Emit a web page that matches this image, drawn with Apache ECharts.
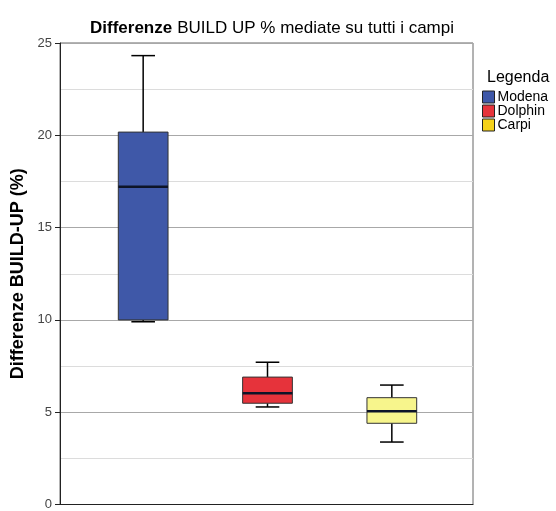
<!DOCTYPE html>
<html>
<head>
<meta charset="utf-8">
<script src="https://cdn.jsdelivr.net/npm/echarts@6/dist/echarts.min.js"></script>
<style>html,body{margin:0;padding:0;background:#fff}#c{width:556px;height:511px}</style>
</head>
<body>
<div id="c"></div>
<script>
var categories = ['Modena', 'Dolphin', 'Carpi'];
// [min, Q1, median, Q3, max]
var modenaStats = [9.98, 10.08, 17.26, 20.2, 24.32];
var dolphinStats = [5.39, 5.59, 6.13, 7.0, 7.8];
var carpiStats = [3.5, 4.51, 5.16, 5.89, 6.57];
var boxColors = ['#3F58A8', '#E6333B', '#F7F58C'];
var legendColors = ['#3F58A8', '#E6333B', '#F5D21A'];
var yTicks = [0, 5, 10, 15, 20, 25];

var stats = [modenaStats, dolphinStats, carpiStats];

function renderBox(params, api) {
  var x = api.value(0);
  var lo = api.coord([x, api.value(1)]);
  var q1 = api.coord([x, api.value(2)]);
  var med = api.coord([x, api.value(3)]);
  var q3 = api.coord([x, api.value(4)]);
  var hi = api.coord([x, api.value(5)]);
  var band = api.size([1, 0])[0];
  var bw = band * 0.4;
  var cw = band * 0.19;
  var cx = lo[0];
  var color = boxColors[params.seriesIndex];
  var lineStyle = { stroke: '#000', lineWidth: 1.5 };
  return {
    type: 'group',
    children: [
      { type: 'line', shape: { x1: cx, y1: hi[1], x2: cx, y2: q3[1] }, style: lineStyle },
      { type: 'line', shape: { x1: cx, y1: q1[1], x2: cx, y2: lo[1] }, style: lineStyle },
      { type: 'line', shape: { x1: cx - cw / 2, y1: hi[1], x2: cx + cw / 2, y2: hi[1] }, style: lineStyle },
      { type: 'line', shape: { x1: cx - cw / 2, y1: lo[1], x2: cx + cw / 2, y2: lo[1] }, style: lineStyle },
      { type: 'rect', shape: { x: cx - bw / 2, y: q3[1], width: bw, height: q1[1] - q3[1] },
        style: { fill: color, stroke: '#333', lineWidth: 1 } },
      { type: 'line', shape: { x1: cx - bw / 2, y1: med[1], x2: cx + bw / 2, y2: med[1] },
        style: { stroke: '#0d1428', lineWidth: 2.5 } }
    ]
  };
}

var series = categories.map(function (name, i) {
  var s = stats[i];
  return {
    type: 'custom',
    name: name,
    xAxisIndex: 1,
    yAxisIndex: 1,
    itemStyle: { color: legendColors[i] },
    renderItem: renderBox,
    encode: { x: 0, y: [1, 2, 3, 4, 5] },
    data: [[i, s[0], s[1], s[2], s[3], s[4]]]
  };
});

var chart = echarts.init(document.getElementById('c'), null, { renderer: 'canvas' });
chart.setOption({
  animation: false,
  backgroundColor: '#fff',
  textStyle: { fontFamily: 'Liberation Sans' },
  title: [
    {
      text: '{b|Differenze} {n|BUILD UP % mediate su tutti i campi}',
      left: 267, top: 13, textAlign: 'center',
      textStyle: {
        rich: {
          b: { fontSize: 17, lineHeight: 20, fontWeight: 'bold', color: '#000', fontFamily: 'Liberation Sans' },
          n: { fontSize: 17, lineHeight: 20, fontWeight: 'normal', color: '#000', fontFamily: 'Liberation Sans' }
        }
      }
    },
    {
      text: 'Legenda',
      left: 482, top: 65,
      textStyle: { fontSize: 16, fontWeight: 'normal', color: '#000', fontFamily: 'Liberation Sans' }
    }
  ],
  legend: {
    orient: 'vertical',
    left: 482, top: 90,
    padding: 0,
    itemWidth: 12, itemHeight: 12, itemGap: 0,
    icon: 'rect',
    textStyle: { fontSize: 14, lineHeight: 14, color: '#000', padding: [0, 0, 0, -2], fontFamily: 'Liberation Sans' },
    data: categories.map(function (n, i) {
      return { name: n, itemStyle: { color: legendColors[i], borderColor: '#222', borderWidth: 1 } };
    })
  },
  grid: [
    { left: 60, top: 43, width: 413, height: 464, show: true, borderColor: '#666', borderWidth: 1, backgroundColor: 'transparent' },
    { left: 81, top: 43, width: 373, height: 464 }
  ],
  xAxis: [
    { type: 'category', gridIndex: 0, data: [''], axisLine: { lineStyle: { color: '#222' } },
      axisTick: { show: false }, axisLabel: { show: false } },
    { type: 'category', gridIndex: 1, data: categories, boundaryGap: true,
      axisLine: { show: false }, axisTick: { show: false }, axisLabel: { show: false } }
  ],
  yAxis: [
    { type: 'value', gridIndex: 0, min: 0, max: 25, interval: 5,
      name: 'Differenze BUILD-UP (%)', nameLocation: 'middle', nameGap: 33,
      nameTextStyle: { fontSize: 18, fontWeight: 'bold', color: '#000', fontFamily: 'Liberation Sans' },
      axisLine: { show: true, lineStyle: { color: '#222' } },
      axisTick: { show: true, length: 5, lineStyle: { color: '#222' } },
      axisLabel: { fontSize: 13, color: '#444', margin: 8,
        formatter: function (v) { return yTicks.indexOf(v) >= 0 ? String(v) : ''; } },
      splitLine: { show: true, lineStyle: { color: '#a8a8a8', width: 1 } },
      minorTick: { show: false, splitNumber: 2 },
      minorSplitLine: { show: true, lineStyle: { color: '#dcdcdc', width: 1 } }
    },
    { type: 'value', gridIndex: 1, min: 0, max: 25, interval: 5, show: false, splitLine: { show: false } }
  ],
  series: series
});
</script>
</body>
</html>
